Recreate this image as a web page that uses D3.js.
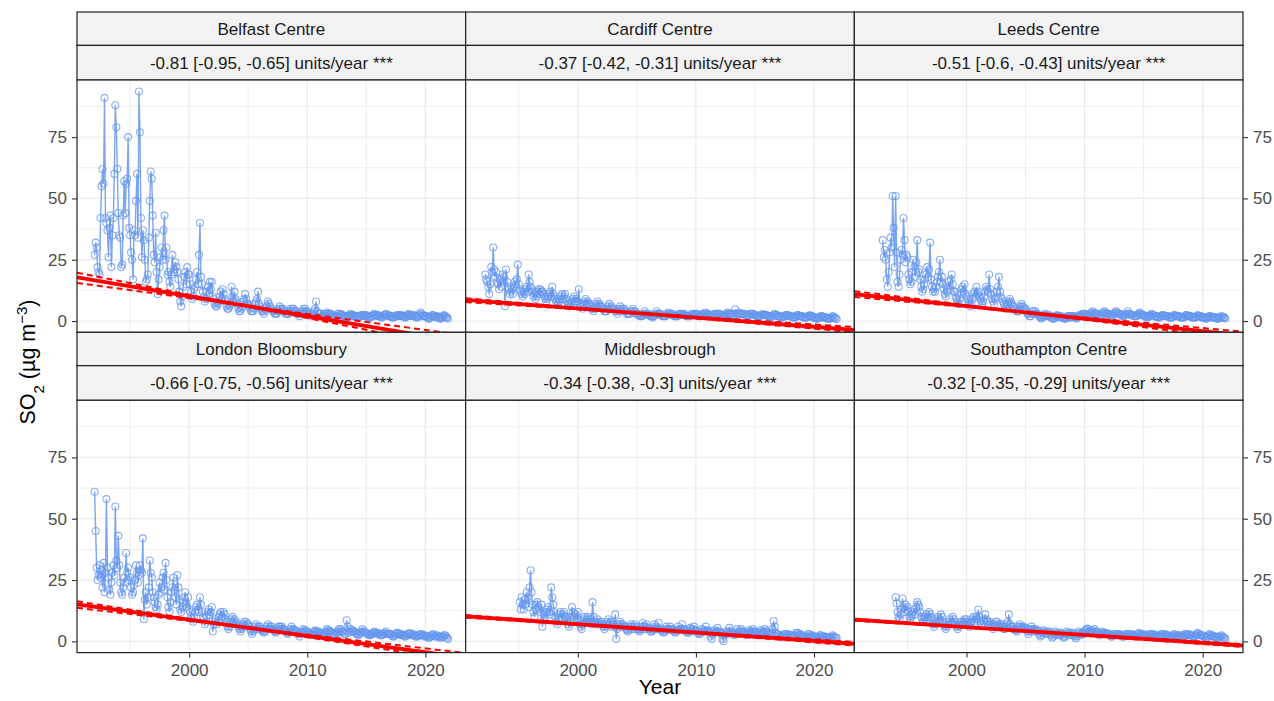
<!DOCTYPE html>
<html>
<head>
<meta charset="utf-8">
<script src="https://cdn.jsdelivr.net/npm/d3@7"></script>
<style>
  body { margin: 0; background: #fff; }
  text { font-family: "Liberation Sans", Arial, sans-serif; }
</style>
</head>
<body>
<svg id="chart" width="1274" height="701"></svg>
<script>
// Sites, trend labels and Theil-Sen estimates
var sites = ["Belfast Centre", "Cardiff Centre", "Leeds Centre",
             "London Bloomsbury", "Middlesbrough", "Southampton Centre"];
var trendLabels = [
    "-0.81 [-0.95, -0.65] units/year ***",
    "-0.37 [-0.42, -0.31] units/year ***",
    "-0.51 [-0.6, -0.43] units/year ***",
    "-0.66 [-0.75, -0.56] units/year ***",
    "-0.34 [-0.38, -0.3] units/year ***",
    "-0.32 [-0.35, -0.29] units/year ***"
];
var slope      = [-0.81, -0.37, -0.51, -0.66, -0.34, -0.32];
var slopeLower = [-0.95, -0.42, -0.60, -0.75, -0.38, -0.35];
var slopeUpper = [-0.65, -0.31, -0.43, -0.56, -0.30, -0.29];
var trendAt2000 = [10.1, 5.1, 6.1, 8.8, 7.0, 5.8];
var pivotYear = 2004.5;

// first month of each monthly series
var firstMonth = ["1992-01", "1992-03", "1992-12", "1992-01", "1995-02", "1994-01"];

// monthly mean SO2, one row per year
var belfast = [
  27, 32, 30, 22, 20, 19, 42, 55, 62, 56, 91, 42,
  40, 37, 26, 38, 43, 22, 35, 42, 60, 88, 79, 62,
  44, 35, 34, 22, 23, 43, 57, 44, 56, 58, 75, 38,
  35, 28, 25, 17, 37, 35, 49, 60, 34, 93.6, 77, 42,
  26, 37, 33, 25, 16, 17, 19, 34, 49, 61, 58, 43,
  27, 24, 36, 20, 11, 17, 22, 26, 30, 25, 37, 43,
  25, 30, 19, 20, 16, 14, 19, 27, 20, 21, 24, 22,
  20, 17, 12, 8, 6, 10, 14, 18, 20, 15, 22, 19,
  19, 15, 12, 9, 10, 13, 14, 17, 20, 15, 27, 40,
  18, 15, 12, 10, 8, 9, 12, 14, 11, 16, 13, 16,
  10, 9, 7, 6, 6, 7, 8, 10, 12, 9, 13, 11,
  9, 8, 6, 5, 5, 6, 7, 14, 10, 8, 12, 9,
  8, 7, 5, 4, 4, 5, 6, 8, 9, 11, 9, 7,
  7, 6, 5, 4, 4, 4, 5, 7, 8, 9, 12, 7,
  6, 5, 4, 4, 3, 4, 5, 6, 8, 7, 6, 5,
  5, 4, 4, 3, 3, 3, 4, 5, 6, 5, 5, 4,
  5, 4, 3, 3, 3, 3, 4, 5, 4, 5, 5, 4,
  4, 4, 3, 3, 2, 3, 3, 4, 5, 4, 5, 4,
  4, 3, 3, 3, 2, 3, 3, 4, 5, 8, 4, 3,
  3, 3, 3, 2, 2, 2, 3, 3, 3.5, 3, 3, 3,
  3, 2.5, 2, 2, 1.5, 2, 2, 3, 3, 2.5, 3, 2.5,
  2.5, 2, 2, 1.5, 1.5, 2, 2, 2.5, 3, 2.5, 2, 2.5,
  2, 2, 1.5, 1.5, 1.5, 2, 2, 2.5, 2.5, 2, 2.5, 2,
  2.5, 2, 1.5, 1.5, 1.5, 2, 2, 2.5, 3, 2.5, 2, 2.5,
  2.5, 2, 2, 1.5, 1.5, 2, 2.5, 2.5, 3, 2.5, 2, 2.5,
  2, 2, 1.5, 1.5, 1.5, 2, 2, 2.5, 2.5, 2, 2.5, 2,
  2.5, 2, 2, 1.5, 1.5, 2, 2.5, 3, 2.5, 2, 2.5, 2,
  2, 2.5, 2, 1.5, 1.5, 2, 2.5, 3.5, 3, 2, 2.5, 2,
  2, 2, 1.5, 1, 1, 1.5, 2, 2.5, 2.5, 2, 2, 1.5,
  2, 1.5, 1.5, 1, 1, 1.5, 2, 2.5, 2, 1.5, 1.5, 1
];
var cardiff = [
  19, 17, 16, 14, 11, 15, 22, 20, 30, 21,
  18, 20, 16, 15, 13, 17, 14, 16, 19, 18, 6, 21,
  16, 14, 13, 11, 12, 13, 11, 14, 16, 15, 17, 23,
  15, 13, 12, 11, 10, 12, 11, 13, 14, 12, 19, 16,
  14, 13, 12, 10, 11, 9, 10, 12, 13, 11, 13, 12,
  12, 11, 10, 9, 8, 9, 10, 11, 12, 10, 14, 11,
  10, 9, 8, 8, 7, 8, 9, 10, 11, 9, 10, 11,
  9, 8, 7, 7, 6, 7, 8, 9, 10, 8, 9, 8,
  8, 13, 7, 6, 6, 5, 7, 8, 9, 7, 8, 7,
  7, 6, 5, 5, 4, 5, 6, 7, 8, 6, 7, 6,
  6, 5, 5, 4, 4, 4, 5, 6, 7, 5, 6, 5,
  5, 5, 4, 4, 3, 4, 5, 6, 5, 4, 5, 5,
  4, 4, 3, 3, 3, 3, 4, 4, 5, 4, 4, 3,
  3, 3, 2.5, 2, 2, 2, 2.5, 3, 4, 3, 3, 2.5,
  3, 2.5, 2, 2, 1.5, 2, 2.5, 3, 4, 3, 3, 2.5,
  3, 2.5, 2, 2, 2, 2, 2.5, 3, 3.5, 3, 3, 2.5,
  3, 2.5, 2, 2, 2, 2, 2.5, 3, 3, 2.5, 3, 2.5,
  3, 2.5, 2, 2, 2, 2, 2, 2.5, 3, 2.5, 3, 2.5,
  3, 3, 2.5, 2, 2, 2, 2.5, 3, 3, 3, 3.5, 3,
  3, 2.5, 2.5, 2, 2, 2, 2.5, 3, 3, 2.5, 3, 3,
  3, 2.5, 2.5, 2, 2, 2, 2.5, 3, 3.5, 3, 3, 3,
  3, 3, 2.5, 2.5, 4.8, 3, 2.5, 3, 3.5, 3, 3, 3,
  3, 3, 2.5, 2, 2, 2.5, 2.5, 3, 3, 3, 3, 2.5,
  2.5, 2.5, 2, 2, 2, 2, 2.5, 2.5, 3, 2.5, 2.5, 2.5,
  2.5, 2, 2, 1.5, 1.5, 2, 2, 2.5, 3, 2.5, 2.5, 2,
  2, 2, 1.5, 1.5, 1.5, 2, 2, 2.5, 2.5, 2, 2.5, 2,
  2, 2, 1.5, 1.5, 1.5, 1.5, 2, 2.5, 2.5, 2, 2, 2,
  2, 1.5, 1.5, 1.5, 1.5, 1.5, 2, 2, 2.5, 2, 2, 1.5,
  1.5, 1.5, 1, 1, 1, 1.5, 1.5, 2, 2, 1.5, 1.5, 1.5,
  1.5, 1, 1, 1, 1, 1, 1.5, 2, 1.5, 1.5, 1, 0.8
];
var leeds = [
  33,
  26, 29, 25, 17, 14, 20, 28, 34, 30, 51, 38, 22,
  51, 28, 16, 14, 19, 25, 29, 27, 42, 33, 24, 27,
  26, 19, 17, 15, 16, 20, 25, 22, 18, 24, 33, 20,
  21, 17, 14, 12, 13, 15, 17, 19, 22, 18, 21, 32,
  17, 14, 12, 13, 12, 14, 16, 18, 20, 25, 16, 18,
  15, 13, 11, 10, 12, 14, 16, 13, 17, 19, 15, 12,
  12, 10, 9, 8, 7, 9, 11, 13, 14, 12, 15, 11,
  10, 9, 8, 7, 6, 7, 9, 11, 12, 10, 14, 11,
  12, 10, 9, 8, 7, 8, 10, 12, 14, 13, 12, 19,
  13, 11, 9, 8, 7, 9, 10, 12, 14, 18, 12, 10,
  9, 8, 7, 6, 5, 6, 7, 8, 9, 8, 7, 6,
  6, 5, 5, 4, 4, 4, 5, 6, 7, 6, 5, 5,
  5, 4, 3, 3, 2, 2, 3, 4, 4, 3, 4, 3,
  3, 2.5, 2, 1.5, 1, 1.5, 2, 2.5, 3, 2, 2.5, 2,
  2.5, 2, 1.5, 1, 1, 1, 1.5, 2, 2.5, 2, 2, 1.5,
  2, 1.5, 1.5, 1, 1, 1, 1.5, 2, 2, 1.5, 2, 1.5,
  2, 2, 1.5, 1.5, 1, 1.5, 2, 2.5, 2.5, 2, 3, 2.5,
  3, 3, 2.5, 2, 2, 2.5, 3, 3.5, 4, 3, 3.5, 3,
  3, 3, 2.5, 2, 2, 2.5, 3, 3.5, 4, 3.5, 3, 3,
  3, 3, 2.5, 2.5, 2, 2.5, 3, 3.5, 4, 3.5, 3, 3,
  3, 2.5, 2.5, 2, 2, 2.5, 3, 3, 4, 3, 3, 2.5,
  2.5, 2.5, 2, 2, 2, 2, 2.5, 3, 3.5, 3, 2.5, 2.5,
  2.5, 2, 2, 1.5, 1.5, 2, 2, 2.5, 3, 2.5, 2.5, 2,
  2, 2, 1.5, 1.5, 1.5, 2, 2, 2.5, 2.5, 2, 2, 2,
  2, 2, 1.5, 1.5, 1.5, 1.5, 2, 2.5, 2.5, 2, 2, 2,
  2, 1.5, 1.5, 1.5, 1.5, 1.5, 2, 2.5, 2.5, 2, 2, 2,
  2, 1.5, 1.5, 1.5, 1.5, 1.5, 2, 2.5, 2, 2, 2, 1.5,
  1.5, 1.5, 1.5, 1, 1, 1.5, 1.5, 2, 2, 1.5, 1.5, 1.5,
  1.5, 1.5, 1, 1, 1, 1.5, 1.5, 2, 1.5, 1.5, 1.5, 1
];
var london = [
  61, 45, 30, 25, 27, 31, 26, 29, 22, 32, 20, 28,
  58, 30, 26, 21, 19, 24, 28, 31, 27, 55, 33, 30,
  43, 31, 24, 20, 19, 22, 26, 24, 36, 28, 30, 25,
  26, 22, 19, 20, 23, 25, 31, 28, 24, 27, 31, 29,
  28, 42, 9, 17, 20, 15, 18, 22, 33, 28, 26, 20,
  18, 16, 14, 13, 15, 19, 24, 20, 22, 26, 28, 21,
  32, 25, 18, 14, 12, 16, 20, 22, 26, 21, 18, 15,
  27, 22, 17, 13, 12, 14, 16, 18, 20, 15, 14, 18,
  13, 12, 10, 9, 8, 10, 12, 14, 15, 13, 12, 18,
  15, 12, 10, 9, 7, 8, 10, 12, 13, 11, 12, 14,
  4, 7, 8, 9, 7, 8, 10, 11, 12, 9, 10, 12,
  11, 9, 8, 6, 5, 6, 8, 9, 10, 8, 9, 7,
  8, 7, 6, 5, 4, 5, 6, 7, 8, 6, 8, 7,
  7, 6, 5, 4, 3, 4, 5, 6, 7, 5, 6, 5,
  6, 5, 4.5, 4, 3.5, 4, 5, 6, 7, 5, 6, 5,
  6, 5, 4.5, 4, 3.5, 4, 5, 6, 6, 5, 6, 5,
  5, 4.5, 4, 3.5, 3, 3.5, 4, 5, 6, 4.5, 5, 4.5,
  4.5, 4, 3.5, 3, 2, 3, 3.5, 4, 5, 4, 4.5, 4,
  4, 3.5, 3, 3, 2.5, 3, 3.5, 4, 4.5, 4, 4, 3.5,
  4, 3.5, 3, 3, 2.5, 3, 3.5, 4, 5, 4, 4.5, 4,
  4, 3.5, 3, 3, 2.5, 3, 3.5, 4, 5, 4, 5, 4,
  4, 3.5, 3, 3, 8.6, 6, 3.5, 4, 5, 4, 4.5, 4,
  4, 3.5, 3, 3, 2.5, 3, 3.5, 4, 5, 4, 4, 3.5,
  3.5, 3, 3, 2.5, 2.5, 3, 3, 3.5, 4, 3.5, 3.5, 3,
  3.5, 3, 2.5, 2.5, 2.5, 3, 3, 3.5, 4, 3, 3, 3,
  3, 3, 2.5, 2, 2, 2.5, 3, 3.5, 3.5, 3, 3, 2.5,
  3, 2.5, 2.5, 2, 2, 2.5, 3, 3, 3.5, 3, 2.5, 2.5,
  3, 2.5, 2, 2, 2, 2.5, 2.5, 3, 3, 2.5, 2.5, 2,
  2.5, 2, 2, 1.5, 1.5, 2, 2.5, 2.5, 3, 2.5, 2, 2,
  2.5, 2, 2, 1.5, 1.5, 2, 2, 2.5, 2.5, 2, 1.5, 1
];
var middlesbrough = [
  16, 13, 18, 15, 13, 17, 15, 20, 18, 14, 22,
  29, 20, 15, 12, 10, 13, 15, 16, 14, 13, 12, 15,
  6, 9, 11, 10, 12, 13, 14, 12, 11, 22, 18, 15,
  12, 10, 8, 7, 9, 11, 12, 10, 9, 11, 12, 10,
  10, 9, 7, 6, 8, 10, 14, 12, 9, 10, 11, 9,
  12, 9, 7, 6, 5, 7, 9, 10, 8, 9, 10, 8,
  9, 8, 7, 16, 10, 8, 7, 8, 9, 7, 8, 7,
  8, 7, 6, 5, 6, 7, 8, 9, 7, 8, 6, 7,
  8, 6, 11, 1, 5, 6, 7, 8, 7, 6, 7, 6,
  6, 5, 4.5, 4, 5, 6, 7, 6, 5, 6, 7, 5,
  6, 5, 4.5, 4, 5, 6, 7.5, 6, 5, 6, 7, 5,
  5.5, 5, 4, 4, 4.5, 5, 7, 6, 5, 5.5, 7.5, 5,
  5, 4.5, 4, 3.5, 4, 5, 6, 5, 4.5, 5, 6, 5,
  5, 4.5, 4, 3.5, 4, 4.5, 6, 5, 4.5, 5, 7, 5,
  5, 4.5, 4, 3.5, 3.5, 4, 5.5, 5, 4, 5, 6, 4.5,
  4.5, 4, 3.5, 3, 3, 3.5, 5, 4.5, 4, 4.5, 6, 4,
  4.5, 4, 3.5, 2, 1, 3, 4.5, 4, 3.5, 4, 5.5, 4,
  4, 3.5, 3, 1, 0.1, 2.5, 4, 3.5, 3, 4, 5.5, 4,
  4, 3.5, 3, 2.5, 3, 3.5, 5, 4, 3.5, 4, 5, 4,
  4, 3.5, 3, 2.5, 3, 3.5, 4.5, 4, 3.5, 4, 5, 4,
  4, 3.5, 3, 2.5, 3, 3.5, 4.5, 4, 3.5, 4, 5, 4,
  4, 3.5, 3, 2.5, 3, 3.5, 5, 8.3, 6, 3.5, 3, 3,
  2.5, 2.5, 2, 2, 2, 2.5, 3, 3, 2.5, 2.5, 3, 2.5,
  2.5, 2.5, 2, 2, 2, 2.5, 3.5, 3.5, 3, 2.5, 3, 2.5,
  2.5, 2, 2, 1.5, 1.5, 2, 3, 3, 2.5, 2, 2.5, 2,
  2, 2, 1.5, 1.5, 1.5, 2, 2.5, 2.5, 2, 2, 2, 1.5,
  2, 1.5, 1.5, 1.5, 1.5, 1.5, 2, 2.5, 2, 1.5, 1.5, 1.5
];
var southampton = [
  18, 15.5, 12, 10, 9, 11, 13, 17.5, 14, 12, 15, 13,
  14, 12, 10, 9, 10, 11, 12, 13, 11, 14, 16, 15,
  14, 12, 10, 9, 8, 9, 10, 11, 9, 10, 12, 11,
  10, 9, 7, 6, 7, 8, 9, 10, 8, 9, 11, 10,
  8, 7, 6, 5, 6, 7, 8, 9, 7, 8, 10, 9,
  8, 7, 6, 5, 6, 7, 8, 8, 7, 8, 9, 8,
  9, 8, 7, 6, 7, 8, 9, 10, 8, 9, 10, 9,
  13, 10, 8, 7, 7, 8, 9, 11, 9, 8, 8, 7,
  8, 7, 6, 5, 6, 7, 8, 8, 7, 6, 7, 6,
  7, 6, 5, 5, 6, 7, 8, 11, 7, 6, 6, 5,
  6, 5, 4.5, 4, 5, 6, 7, 6, 5, 5.5, 6, 5,
  5.5, 5, 4, 3, 4, 5, 6, 5, 4, 4.5, 5, 4,
  4.5, 4, 3, 2, 2.5, 3.5, 4.5, 4, 3, 3.5, 4, 3,
  4, 3.5, 2.5, 1.5, 2, 3, 4, 3.5, 2.5, 3, 3.5, 2.5,
  3.5, 3, 2, 1.5, 2, 3, 4, 3.5, 2.5, 3, 3.5, 2.5,
  3.5, 3, 2, 1.2, 2, 3, 4, 3.5, 2.5, 3, 3.5, 3,
  4, 4.5, 5, 5.2, 4, 3.5, 4, 4.5, 3.5, 4, 5, 4,
  4, 3.5, 3, 2.5, 3, 3.5, 4, 3.5, 3, 3, 3.5, 3,
  3, 3, 2.5, 2, 2, 2.5, 3, 3, 2.5, 2.5, 3, 2.5,
  3, 2.5, 2, 2, 2, 2.5, 3, 3, 2.5, 2.5, 3, 2.5,
  3, 2.5, 2.5, 2, 2, 2.5, 3, 3.5, 3, 2.5, 3, 2.5,
  3, 2.5, 2.5, 2, 2, 2.5, 3, 3, 2.5, 2.5, 3, 2.5,
  2.5, 2.5, 2, 2, 2, 2.5, 3, 3, 2.5, 2.5, 3, 2.5,
  2.5, 2.5, 2, 1.5, 2, 2, 2.5, 3, 2.5, 2, 2.5, 2,
  2.5, 2.5, 2, 2, 2, 2.5, 3, 3, 2.5, 2.5, 3, 2.5,
  2.5, 2.5, 2, 2, 2, 2.5, 3, 3.5, 3, 2.5, 2.5, 2.5,
  2.5, 2, 2, 1.5, 1.5, 2, 2.5, 3, 2.5, 2, 2.5, 2,
  2, 2, 1.5, 1.5, 1.5, 2, 2, 2.5, 2, 1.5, 1.5, 1
];
var seriesValues = [belfast, cardiff, leeds, london, middlesbrough, southampton];

var xMajor = [2000, 2010, 2020], xMinor = [1995, 2005, 2015];
var yMajor = [0, 25, 50, 75], yMinor = [12.5, 37.5, 62.5, 87.5];

// Layout
var svg = d3.select("#chart");
var left = 77, right = 1243, top0 = 12;
var ncol = 3, pw = (right - left) / ncol;
var strip1 = 33.4, strip2 = 34.6, ph = 252.3;
var rowH = strip1 + strip2 + ph;
var dataCol = "cornflowerblue";

// turn each series into {t, v} points (decimal years)
var series = seriesValues.map(function (vals, i) {
    var p = firstMonth[i].split("-");
    var y0 = +p[0], m0 = +p[1] - 1;
    return vals.map(function (v, k) {
        return {t: y0 + (m0 + k) / 12, v: v};
    });
});

var all = d3.merge(series);
var tExt = d3.extent(all, function (d) { return d.t; });
var vExt = d3.extent(all, function (d) { return d.v; });
var tPad = (tExt[1] - tExt[0]) * 0.05, vPad = (vExt[1] - vExt[0]) * 0.05;

var x = d3.scaleLinear().domain([tExt[0] - tPad, tExt[1] + tPad]).range([0, pw]);
var y = d3.scaleLinear().domain([vExt[0] - vPad, vExt[1] + vPad]).range([ph, 0]);

var defs = svg.append("defs");
defs.append("clipPath").attr("id", "panelClip")
    .append("rect").attr("width", pw).attr("height", ph);

var line = d3.line().x(function (d) { return x(d.t); }).y(function (d) { return y(d.v); });

sites.forEach(function (name, i) {
    var col = i % ncol, row = Math.floor(i / ncol);
    var gx = left + col * pw, gy = top0 + row * rowH;
    var g = svg.append("g").attr("transform", "translate(" + gx + "," + gy + ")");

    // strips
    g.append("rect").attr("width", pw).attr("height", strip1)
        .attr("fill", "#f2f2f2").attr("stroke", "#222").attr("stroke-width", 1.2);
    g.append("text").attr("x", pw / 2).attr("y", strip1 / 2 + 1)
        .attr("text-anchor", "middle").attr("dominant-baseline", "central")
        .attr("font-size", 17).attr("fill", "#1a1a1a").text(name);
    g.append("rect").attr("y", strip1).attr("width", pw).attr("height", strip2)
        .attr("fill", "#f2f2f2").attr("stroke", "#222").attr("stroke-width", 1.2);
    g.append("text").attr("x", pw / 2).attr("y", strip1 + strip2 / 2 + 1)
        .attr("text-anchor", "middle").attr("dominant-baseline", "central")
        .attr("font-size", 17).attr("fill", "#1a1a1a").text(trendLabels[i]);

    var p = g.append("g").attr("transform", "translate(0," + (strip1 + strip2) + ")");
    p.append("rect").attr("width", pw).attr("height", ph).attr("fill", "#fff");

    // grid
    p.selectAll(".gxm").data(xMinor).enter().append("line")
        .attr("x1", x).attr("x2", x).attr("y1", 0).attr("y2", ph)
        .attr("stroke", "#ebebeb").attr("stroke-width", 0.9);
    p.selectAll(".gym").data(yMinor).enter().append("line")
        .attr("y1", y).attr("y2", y).attr("x1", 0).attr("x2", pw)
        .attr("stroke", "#ebebeb").attr("stroke-width", 0.9);
    p.selectAll(".gx").data(xMajor).enter().append("line")
        .attr("x1", x).attr("x2", x).attr("y1", 0).attr("y2", ph)
        .attr("stroke", "#ebebeb").attr("stroke-width", 1.3);
    p.selectAll(".gy").data(yMajor).enter().append("line")
        .attr("y1", y).attr("y2", y).attr("x1", 0).attr("x2", pw)
        .attr("stroke", "#ebebeb").attr("stroke-width", 1.3);

    var c = p.append("g").attr("clip-path", "url(#panelClip)");

    // data
    c.append("path").datum(series[i]).attr("d", line)
        .attr("fill", "none").attr("stroke", dataCol).attr("stroke-opacity", 0.85)
        .attr("stroke-width", 1.4);
    c.selectAll("circle").data(series[i]).enter().append("circle")
        .attr("cx", function (d) { return x(d.t); })
        .attr("cy", function (d) { return y(d.v); })
        .attr("r", 3.5).attr("fill", "none")
        .attr("stroke", dataCol).attr("stroke-opacity", 0.75).attr("stroke-width", 1.1);

    // Theil-Sen trend and confidence lines
    var dom = x.domain();
    var main = function (t) { return trendAt2000[i] + slope[i] * (t - 2000); };
    var pv = main(pivotYear);
    [slopeLower[i], slopeUpper[i]].forEach(function (s) {
        c.append("line")
            .attr("x1", x(dom[0])).attr("y1", y(pv + s * (dom[0] - pivotYear)))
            .attr("x2", x(dom[1])).attr("y2", y(pv + s * (dom[1] - pivotYear)))
            .attr("stroke", "red").attr("stroke-width", 2)
            .attr("stroke-dasharray", "6,4");
    });
    c.append("line")
        .attr("x1", x(dom[0])).attr("y1", y(main(dom[0])))
        .attr("x2", x(dom[1])).attr("y2", y(main(dom[1])))
        .attr("stroke", "red").attr("stroke-width", 3.8);

    p.append("rect").attr("width", pw).attr("height", ph)
        .attr("fill", "none").attr("stroke", "#222").attr("stroke-width", 1.2);

    // axes
    if (row === 1) {
        var ax = p.append("g").attr("transform", "translate(0," + ph + ")")
            .call(d3.axisBottom(x).tickValues(xMajor).tickFormat(d3.format("d"))
                .tickSize(5).tickPadding(6));
        styleAxis(ax);
    }
    if (col === 0) {
        styleAxis(p.append("g").call(d3.axisLeft(y).tickValues(yMajor).tickSize(5).tickPadding(5)));
    }
    if (col === ncol - 1) {
        styleAxis(p.append("g").attr("transform", "translate(" + pw + ",0)")
            .call(d3.axisRight(y).tickValues(yMajor).tickSize(5).tickPadding(5)));
    }
});

function styleAxis(a) {
    a.select(".domain").remove();
    a.selectAll(".tick line").attr("stroke", "#333").attr("stroke-width", 1.1);
    a.selectAll(".tick text").attr("fill", "#4d4d4d").attr("font-size", 17)
        .attr("font-family", "'Liberation Sans', Arial, sans-serif");
}

// axis titles
svg.append("text").attr("x", (left + right) / 2).attr("y", 694)
    .attr("text-anchor", "middle").attr("font-size", 21).attr("fill", "#000")
    .text("Year");

var yt = svg.append("text").attr("transform", "translate(35,362) rotate(-90)")
    .attr("text-anchor", "middle").attr("font-size", 21.5).attr("fill", "#000");
yt.append("tspan").text("SO");
yt.append("tspan").attr("baseline-shift", "sub").attr("font-size", 15).text("2");
yt.append("tspan").text(" (\u00b5g m");
yt.append("tspan").attr("baseline-shift", "super").attr("font-size", 15).text("\u22123");
yt.append("tspan").text(")");
</script>
</body>
</html>
